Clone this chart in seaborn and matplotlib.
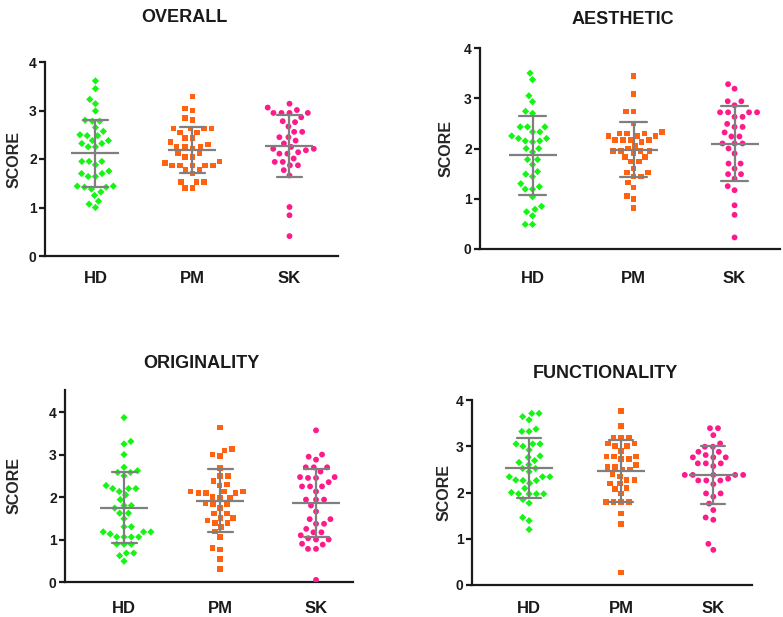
import numpy as np
import pandas as pd
import matplotlib
matplotlib.use("Agg")
import matplotlib.pyplot as plt
import seaborn as sns

groups = ["HD", "PM", "SK"]
titles = ["OVERALL", "AESTHETIC", "ORIGINALITY", "FUNCTIONALITY"]

# scores, one list per group and panel
overall_hd = [3.61, 3.45, 3.23, 3.14, 2.99, 2.80, 2.78, 2.78, 2.65, 2.57, 2.50, 2.48, 2.48,
              2.38, 2.38, 2.32, 2.32, 2.25, 2.25, 1.95, 1.95, 1.95, 1.88, 1.75, 1.70, 1.70,
              1.64, 1.64, 1.44, 1.44, 1.42, 1.42, 1.38, 1.32, 1.25, 1.13, 1.07, 1.00]
overall_pm = [3.29, 3.04, 3.00, 2.85, 2.80, 2.63, 2.63, 2.63, 2.63, 2.55, 2.55, 2.43, 2.43,
              2.35, 2.30, 2.26, 2.26, 2.26, 2.22, 2.11, 2.11, 2.04, 2.04, 1.95, 1.92, 1.87,
              1.87, 1.87, 1.87, 1.87, 1.77, 1.77, 1.70, 1.53, 1.53, 1.53, 1.40, 1.40]
overall_sk = [3.14, 3.06, 3.01, 2.95, 2.95, 2.95, 2.95, 2.86, 2.78, 2.76, 2.67, 2.56, 2.56,
              2.45, 2.45, 2.38, 2.32, 2.25, 2.21, 2.21, 2.18, 2.14, 2.11, 2.11, 2.01, 1.94,
              1.94, 1.87, 1.87, 1.77, 1.66, 1.01, 0.84, 0.41]

aesthetic_hd = [3.50, 3.37, 3.05, 2.93, 2.74, 2.70, 2.43, 2.43, 2.43, 2.33, 2.33, 2.25, 2.20,
                2.20, 2.15, 2.15, 2.13, 2.00, 2.00, 1.93, 1.78, 1.78, 1.68, 1.54, 1.49, 1.44,
                1.30, 1.24, 1.19, 1.19, 1.04, 0.85, 0.79, 0.74, 0.66, 0.49, 0.49]
aesthetic_pm = [3.44, 3.09, 2.74, 2.74, 2.50, 2.33, 2.30, 2.30, 2.30, 2.25, 2.25, 2.25, 2.17,
                2.17, 2.17, 2.17, 2.13, 2.05, 2.00, 1.95, 1.95, 1.95, 1.95, 1.90, 1.83, 1.83,
                1.74, 1.74, 1.60, 1.52, 1.52, 1.44, 1.44, 1.32, 1.22, 1.06, 0.99, 0.82]
aesthetic_sk = [3.28, 3.19, 2.94, 2.94, 2.86, 2.72, 2.72, 2.72, 2.72, 2.63, 2.63, 2.49, 2.43,
                2.43, 2.32, 2.24, 2.24, 2.10, 2.10, 2.10, 2.00, 1.90, 1.70, 1.70, 1.60, 1.49,
                1.49, 1.40, 1.25, 1.17, 0.87, 0.68, 0.23]

originality_hd = [3.87, 3.31, 3.25, 3.00, 2.70, 2.62, 2.58, 2.58, 2.50, 2.27, 2.20, 2.20, 2.20,
                  2.13, 2.05, 1.94, 1.80, 1.80, 1.74, 1.62, 1.62, 1.49, 1.30, 1.30, 1.18, 1.18,
                  1.18, 1.13, 1.06, 1.06, 1.06, 1.06, 0.89, 0.89, 0.89, 0.68, 0.68, 0.62, 0.49]
originality_pm = [3.64, 3.13, 3.10, 3.00, 2.96, 2.68, 2.50, 2.50, 2.38, 2.30, 2.27, 2.13, 2.13,
                  2.13, 2.10, 2.10, 2.10, 2.00, 1.98, 1.98, 1.85, 1.82, 1.82, 1.74, 1.61, 1.61,
                  1.51, 1.51, 1.45, 1.39, 1.39, 1.29, 1.19, 1.06, 0.80, 0.76, 0.54, 0.31]
originality_sk = [3.57, 3.00, 2.95, 2.88, 2.70, 2.70, 2.70, 2.60, 2.47, 2.47, 2.45, 2.45, 2.35,
                  2.25, 2.25, 2.25, 2.13, 1.94, 1.94, 1.94, 1.80, 1.66, 1.48, 1.48, 1.37, 1.37,
                  1.25, 1.17, 1.17, 1.10, 1.03, 1.00, 1.00, 0.90, 0.88, 0.78, 0.78, 0.05]

functionality_hd = [3.71, 3.71, 3.64, 3.57, 3.37, 3.32, 3.32, 3.05, 3.05, 3.05, 3.00, 2.92, 2.79,
                    2.76, 2.69, 2.65, 2.60, 2.52, 2.52, 2.45, 2.34, 2.34, 2.34, 2.27, 2.26, 2.26,
                    2.20, 2.09, 2.00, 1.97, 1.97, 1.97, 1.97, 1.85, 1.77, 1.46, 1.39, 1.20]
functionality_pm = [3.76, 3.44, 3.19, 3.19, 3.19, 3.06, 3.06, 3.00, 3.00, 2.90, 2.78, 2.78, 2.78,
                    2.72, 2.72, 2.60, 2.55, 2.55, 2.50, 2.50, 2.40, 2.35, 2.27, 2.27, 2.19, 2.19,
                    2.10, 2.07, 1.98, 1.80, 1.80, 1.80, 1.80, 1.55, 1.32, 0.27]
functionality_sk = [3.39, 3.39, 3.24, 3.06, 2.99, 2.99, 2.88, 2.88, 2.81, 2.76, 2.76, 2.76, 2.63,
                    2.63, 2.63, 2.57, 2.38, 2.38, 2.38, 2.38, 2.38, 2.30, 2.26, 2.26, 2.26, 2.18,
                    1.98, 1.98, 1.91, 1.76, 1.62, 1.46, 1.41, 0.89, 0.76]

panels = [
    [overall_hd, overall_pm, overall_sk],
    [aesthetic_hd, aesthetic_pm, aesthetic_sk],
    [originality_hd, originality_pm, originality_sk],
    [functionality_hd, functionality_pm, functionality_sk],
]

sns.set_style("ticks")
plt.rcParams["font.family"] = ["Liberation Sans", "DejaVu Sans"]
plt.rcParams["font.weight"] = "bold"

colors = {"HD": "#14f514", "PM": "#ff6210", "SK": "#ff1a8c"}
markers = {"HD": "D", "PM": "s", "SK": "o"}
msizes = {"HD": 3.7, "PM": 4.0, "SK": 4.2}

W, H = 783, 617
fig = plt.figure(figsize=(W / 100, H / 100), dpi=100)

# axes boxes in pixels: left, right, top, bottom
boxes = [(45, 338, 62, 256), (480, 780, 48, 249), (65, 353, 390, 582), (472, 752, 400, 585)]
xlims = [(-0.52, 2.5), (-0.52, 2.45), (-0.615, 2.385), (-0.62, 2.42)]
ytops = [4, 4, 4.52, 4]
title_pads = [29, 17.5, 15.5, 15.5]
label_x = [-0.08, -0.088, -0.151, -0.073]
xtick_pads = [11, 16, 13.5, 11.5]

for i, title in enumerate(titles):
    l, r, t, b = boxes[i]
    ax = fig.add_axes([l / W, 1 - b / H, (r - l) / W, (b - t) / H])
    data = panels[i]
    df = pd.DataFrame({
        "group": np.repeat(groups, [len(v) for v in data]),
        "score": np.concatenate(data),
    })

    for g in groups:
        sns.swarmplot(data=df[df["group"] == g], x="group", y="score", order=groups, ax=ax,
                      color=colors[g], marker=markers[g], size=msizes[g],
                      linewidth=1.3, edgecolor="none")

    # mean +/- SD in gray
    sns.pointplot(data=df, x="group", y="score", order=groups, ax=ax,
                  errorbar="sd", capsize=0.26, color="#7f7f7f",
                  marker="_", markersize=34, markeredgewidth=1.6, linestyle="none",
                  err_kws={"linewidth": 1.6, "zorder": 5}, zorder=5)

    ax.set_xlim(xlims[i])
    ax.set_ylim(0, ytops[i])
    ax.set_yticks([0, 1, 2, 3, 4])
    ax.set_xlabel("")
    ax.set_ylabel("SCORE", fontsize=11.5, fontweight="bold")
    ax.yaxis.set_label_coords(label_x[i], 0.5)
    ax.set_title(title, fontsize=13, fontweight="bold", pad=title_pads[i], x=0.475,
                 color="#1a1a1a")
    sns.despine(ax=ax)
    for s in ("left", "bottom"):
        ax.spines[s].set_linewidth(1.6)
        ax.spines[s].set_color("#1a1a1a")
    ax.tick_params(axis="y", width=1.6, length=4, labelsize=10, pad=2, colors="#1a1a1a")
    ax.tick_params(axis="x", length=0, labelsize=12, pad=xtick_pads[i], colors="#1a1a1a")

fig.savefig("out.png", dpi=100)
